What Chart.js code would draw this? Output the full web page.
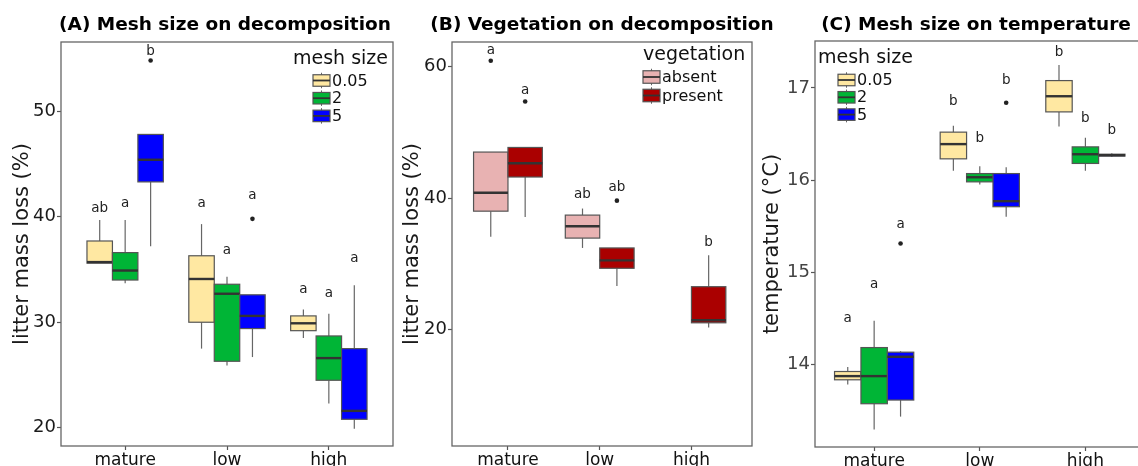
<!DOCTYPE html>
<html>
<head>
<meta charset="utf-8">
<script src="https://cdn.jsdelivr.net/npm/chart.js@4.4.1/dist/chart.umd.min.js"></script>
<style>
html, body { margin: 0; padding: 0; background: #fff; overflow: hidden; }
body { width: 1138px; height: 466px; position: relative; }
canvas { position: absolute; top: 0; }
</style>
</head>
<body>
<canvas id="chartA" width="397" height="466" style="left:3px"></canvas>
<canvas id="chartB" width="400" height="466" style="left:394px"></canvas>
<canvas id="chartC" width="400" height="466" style="left:757px"></canvas>
<script>
const categories = ["mature", "low", "high"];
const meshSizes = ["0.05", "2", "5"];
const vegetationLevels = ["absent", "present"];

// (A) litter mass loss (%) by mesh size: one row per mesh size, columns follow categories
const massMeshLow = [[35.6, 27.5, 28.5], [33.7, 25.9, 22.3], [37.2, 26.7, 19.9]];
const massMeshQ1 = [[35.6, 30.0, 29.2], [34.0, 26.3, 24.5], [43.3, 29.4, 20.8]];
const massMeshMedian = [[35.7, 34.1, 29.9], [34.9, 32.7, 26.6], [45.4, 30.6, 21.6]];
const massMeshQ3 = [[37.7, 36.3, 30.6], [36.6, 33.6, 28.7], [47.8, 32.6, 27.5]];
const massMeshHigh = [[39.7, 39.3, 31.2], [39.7, 34.3, 30.8], [47.8, 32.6, 33.5]];
const massMeshOutliers = [[2, 0, 54.8], [2, 1, 39.8]]; // [group, category, value]
const massMeshLetters = [["ab", "a", "a"], ["a", "a", "a"], ["b", "a", "a"]];
const massMeshLetterY = [[40.8, 41.3, 33.1], [41.3, 36.8, 32.7], [55.7, 42.0, 36.0]];
const massMeshTicks = [20, 30, 40, 50];

// (B) litter mass loss (%) by vegetation
const massVegLow = [[34.1, 32.4, null], [37.1, 26.6, 20.3]];
const massVegQ1 = [[38.0, 33.9, null], [43.2, 29.3, 21.0]];
const massVegMedian = [[40.8, 35.7, null], [45.3, 30.5, 21.4]];
const massVegQ3 = [[47.0, 37.4, null], [47.7, 32.4, 26.5]];
const massVegHigh = [[47.0, 38.4, null], [47.7, 32.4, 31.3]];
const massVegOutliers = [[0, 0, 60.9], [1, 0, 54.7], [1, 1, 39.6]];
const massVegLetters = [["a", "ab", ""], ["a", "ab", "b"]];
const massVegLetterY = [[62.4, 40.5, null], [56.3, 41.6, 33.2]];
const massVegTicks = [20, 40, 60];

// (C) temperature (°C) by mesh size
const tempMeshLow = [[13.78, 16.10, 16.58], [13.29, 15.95, 16.10], [13.43, 15.60, 16.25]];
const tempMeshQ1 = [[13.83, 16.23, 16.74], [13.57, 15.98, 16.18], [13.61, 15.71, 16.26]];
const tempMeshMedian = [[13.87, 16.39, 16.91], [13.87, 16.03, 16.28], [14.08, 15.77, 16.27]];
const tempMeshQ3 = [[13.92, 16.52, 17.08], [14.18, 16.07, 16.36], [14.13, 16.07, 16.28]];
const tempMeshHigh = [[13.97, 16.59, 17.25], [14.47, 16.15, 16.46], [14.14, 16.14, 16.29]];
const tempMeshOutliers = [[2, 0, 15.31], [2, 1, 16.84]];
const tempMeshLetters = [["a", "b", "b"], ["a", "b", "b"], ["a", "b", "b"]];
const tempMeshLetterY = [[14.50, 16.85, 17.38], [14.87, 16.45, 16.67], [15.52, 17.08, 16.54]];
const tempMeshTicks = [14, 15, 16, 17];

const meshColors = ["#FFE8A2", "#00B536", "#0000FF"];
const vegColors = ["#E8B2B2", "#AA0000"];
const FONT = "'DejaVu Sans', sans-serif";
const DODGE = 0.75;

function boxX(group, nGroups, cat) {
    const width = DODGE / nGroups;
    return cat + 1 + (group - (nGroups - 1) / 2) * width;
}

function line(ctx, x1, y1, x2, y2) {
    ctx.beginPath();
    ctx.moveTo(x1, y1);
    ctx.lineTo(x2, y2);
    ctx.stroke();
}

const boxplotPlugin = {
    id: "boxplots",
    beforeDatasetsDraw(chart, args, opts) {
        const { ctx, scales: { x, y } } = chart;
        const n = opts.q1.length;
        const width = DODGE / n;
        ctx.save();
        for (let g = 0; g < n; g++) {
            for (let c = 0; c < categories.length; c++) {
                if (opts.q1[g][c] === null) continue;
                const centre = boxX(g, n, c);
                const xc = x.getPixelForValue(centre);
                const xl = x.getPixelForValue(centre - width / 2);
                const xr = x.getPixelForValue(centre + width / 2);
                const yLow = y.getPixelForValue(opts.low[g][c]);
                const yQ1 = y.getPixelForValue(opts.q1[g][c]);
                const yMed = y.getPixelForValue(opts.median[g][c]);
                const yQ3 = y.getPixelForValue(opts.q3[g][c]);
                const yHigh = y.getPixelForValue(opts.high[g][c]);

                ctx.strokeStyle = "#666";
                ctx.lineWidth = 1.2;
                line(ctx, xc, yHigh, xc, yQ3);
                line(ctx, xc, yQ1, xc, yLow);

                ctx.fillStyle = opts.colors[g];
                ctx.fillRect(xl, yQ3, xr - xl, yQ1 - yQ3);
                ctx.strokeStyle = "#555";
                ctx.strokeRect(xl, yQ3, xr - xl, yQ1 - yQ3);

                ctx.strokeStyle = "#333";
                ctx.lineWidth = 2.4;
                line(ctx, xl, yMed, xr, yMed);
            }
        }
        ctx.restore();
    },
    afterDatasetsDraw(chart, args, opts) {
        const { ctx, chartArea, scales: { x, y } } = chart;
        const n = opts.q1.length;
        ctx.save();
        ctx.font = `13.5px ${FONT}`;
        ctx.fillStyle = "#222";
        ctx.textAlign = "center";
        ctx.textBaseline = "middle";
        for (let g = 0; g < n; g++) {
            for (let c = 0; c < categories.length; c++) {
                const text = opts.letters[g][c];
                if (!text) continue;
                ctx.fillText(text, x.getPixelForValue(boxX(g, n, c)), y.getPixelForValue(opts.letterY[g][c]));
            }
        }
        // panel border
        ctx.strokeStyle = "#666";
        ctx.lineWidth = 1.3;
        ctx.strokeRect(chartArea.left, chartArea.top, chartArea.right - chartArea.left, chartArea.bottom - chartArea.top);
        ctx.restore();
    },
    afterDraw(chart, args, opts) {
        const { ctx, chartArea } = chart;
        const leg = opts.legend;
        ctx.save();
        // panel title
        ctx.font = `bold 18.5px ${FONT}`;
        ctx.fillStyle = "#000";
        ctx.textAlign = "center";
        ctx.textBaseline = "middle";
        ctx.fillText(opts.title, (chartArea.left + chartArea.right) / 2 + opts.titleShift, 25);

        // legend
        const x0 = leg.fromRight ? chartArea.right - leg.dx : chartArea.left + leg.dx;
        ctx.textAlign = "left";
        ctx.font = `19px ${FONT}`;
        ctx.fillStyle = "#111";
        ctx.fillText(leg.title, x0, chartArea.top + leg.titleDy);
        ctx.font = `16px ${FONT}`;
        leg.labels.forEach((label, i) => {
            const cy = chartArea.top + leg.firstDy + i * leg.gap;
            const kx = x0 + leg.keyDx;
            const kw = 17;
            const kh = leg.keyH;
            ctx.strokeStyle = "#666";
            ctx.lineWidth = 1;
            line(ctx, kx + kw / 2, cy - kh / 2 - 2, kx + kw / 2, cy + kh / 2 + 2);
            ctx.fillStyle = opts.colors[i];
            ctx.fillRect(kx, cy - kh / 2, kw, kh);
            ctx.strokeStyle = "#555";
            ctx.lineWidth = 1.2;
            ctx.strokeRect(kx, cy - kh / 2, kw, kh);
            ctx.strokeStyle = "#333";
            ctx.lineWidth = 1.8;
            line(ctx, kx, cy, kx + kw, cy);
            ctx.fillStyle = "#111";
            ctx.fillText(label, kx + kw + 2, cy + 1);
        });
        ctx.restore();
    },
};

function makePanel(id, panel) {
    const n = panel.q1.length;
    const outlierPoints = panel.outliers.map(([g, c, v]) => ({ x: boxX(g, n, c), y: v }));
    return new Chart(document.getElementById(id), {
        type: "scatter",
        data: {
            datasets: [{
                data: outlierPoints,
                backgroundColor: "#222",
                borderWidth: 0,
                pointRadius: 2.3,
            }],
        },
        options: {
            responsive: false,
            animation: false,
            events: [],
            layout: { padding: { top: panel.top, right: panel.right, left: 0, bottom: 0 } },
            plugins: {
                legend: { display: false },
                tooltip: { enabled: false },
                boxplots: {
                    low: panel.low, q1: panel.q1, median: panel.median, q3: panel.q3, high: panel.high,
                    letters: panel.letters, letterY: panel.letterY, colors: panel.colors,
                    title: panel.title, titleShift: panel.titleShift, legend: panel.legend,
                },
            },
            scales: {
                x: {
                    type: "linear",
                    min: panel.xMin,
                    max: panel.xMax,
                    afterBuildTicks: (scale) => { scale.ticks = categories.map((_, i) => ({ value: i + 1 })); },
                    afterFit: (scale) => { scale.height = panel.xAxisHeight; },
                    ticks: {
                        callback: (v) => categories[Math.round(v) - 1],
                        font: { family: FONT, size: 17 },
                        color: "#111",
                        padding: 0,
                        maxRotation: 0,
                        autoSkip: false,
                    },
                    grid: { drawOnChartArea: false, tickLength: 4, tickColor: "#555", tickWidth: 1.2 },
                    border: { display: false },
                },
                y: {
                    type: "linear",
                    min: panel.yMin,
                    max: panel.yMax,
                    afterBuildTicks: (scale) => { scale.ticks = panel.ticks.map((v) => ({ value: v })); },
                    afterFit: (scale) => { scale.width = 58; },
                    ticks: {
                        font: { family: FONT, size: 18 },
                        color: panel.tickColor,
                        padding: 1,
                    },
                    grid: { drawOnChartArea: false, tickLength: 4, tickColor: "#555", tickWidth: 1.2 },
                    border: { display: false },
                    title: {
                        display: true,
                        text: panel.yTitle,
                        font: { family: FONT, size: 21 },
                        color: "#1a1a1a",
                        padding: { top: panel.yTitlePad, bottom: 0 },
                    },
                },
            },
        },
        plugins: [boxplotPlugin],
    });
}

makePanel("chartA", {
    low: massMeshLow, q1: massMeshQ1, median: massMeshMedian, q3: massMeshQ3, high: massMeshHigh,
    outliers: massMeshOutliers, letters: massMeshLetters, letterY: massMeshLetterY,
    ticks: massMeshTicks, colors: meshColors,
    yMin: 18.27, yMax: 56.56, xMin: 0.37, xMax: 3.63,
    top: 42, right: 7, xAxisHeight: 20, yTitlePad: 7.4, tickColor: "#1a1a1a",
    yTitle: "litter mass loss (%)",
    title: "(A) Mesh size on decomposition", titleShift: -2,
    legend: { title: "mesh size", labels: meshSizes, fromRight: true, dx: 100, keyDx: 20, titleDy: 17, firstDy: 38.5, gap: 17.7, keyH: 11.5 },
});

makePanel("chartB", {
    low: massVegLow, q1: massVegQ1, median: massVegMedian, q3: massVegQ3, high: massVegHigh,
    outliers: massVegOutliers, letters: massVegLetters, letterY: massVegLetterY,
    ticks: massVegTicks, colors: vegColors,
    yMin: 2.24, yMax: 63.76, xMin: 0.39, xMax: 3.66,
    top: 42, right: 42, xAxisHeight: 20, yTitlePad: 6.4, tickColor: "#1a1a1a",
    yTitle: "litter mass loss (%)",
    title: "(B) Vegetation on decomposition", titleShift: 0,
    legend: { title: "vegetation", labels: vegetationLevels, fromRight: true, dx: 109, keyDx: 0, titleDy: 13, firstDy: 35, gap: 18.5, keyH: 12.5 },
});

makePanel("chartC", {
    low: tempMeshLow, q1: tempMeshQ1, median: tempMeshMedian, q3: tempMeshQ3, high: tempMeshHigh,
    outliers: tempMeshOutliers, letters: tempMeshLetters, letterY: tempMeshLetterY,
    ticks: tempMeshTicks, colors: meshColors,
    yMin: 13.10, yMax: 17.51, xMin: 0.44, xMax: 3.64,
    top: 41, right: 0, xAxisHeight: 19, yTitlePad: 3.4, tickColor: "#444",
    yTitle: "temperature (°C)",
    title: "(C) Mesh size on temperature", titleShift: -8,
    legend: { title: "mesh size", labels: meshSizes, fromRight: false, dx: 3, keyDx: 20, titleDy: 17, firstDy: 39, gap: 17.3, keyH: 11.5 },
});
</script>
</body>
</html>
